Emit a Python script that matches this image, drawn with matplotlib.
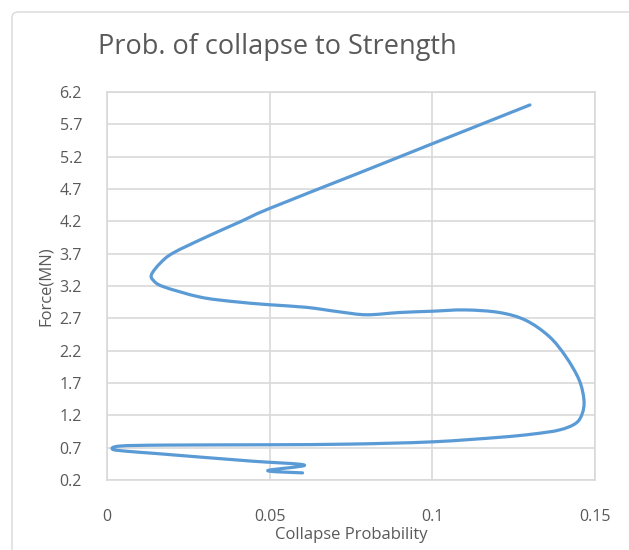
import matplotlib.pyplot as plt
from matplotlib.path import Path
from matplotlib.patches import PathPatch, FancyBboxPatch

# collapse probability vs force, traced along the curve from the low end upwards
prob = [0.0601, 0.0494, 0.0607, 0.045, 0.0285, 0.015, 0.006, 0.0017, 0.004, 0.018,
        0.05, 0.0745, 0.1, 0.1206, 0.1308, 0.139, 0.1441, 0.1461, 0.1466, 0.1451,
        0.141, 0.1359, 0.1287, 0.1206, 0.110, 0.1, 0.0899, 0.0798, 0.0715, 0.0613,
        0.05, 0.0387, 0.0285, 0.0173, 0.0142, 0.0137, 0.0163, 0.0203, 0.0306, 0.0408,
        0.05, 0.0776, 0.1, 0.13]
force = [0.31, 0.345, 0.43, 0.49, 0.555, 0.61, 0.645, 0.675, 0.725, 0.74,
         0.745, 0.755, 0.79, 0.86, 0.91, 0.973, 1.077, 1.23, 1.44, 1.75,
         2.11, 2.42, 2.67, 2.79, 2.83, 2.81, 2.79, 2.755, 2.80, 2.87,
         2.91, 2.96, 3.03, 3.19, 3.29, 3.38, 3.55, 3.71, 3.96, 4.19,
         4.40, 4.95, 5.40, 6.0]

xticks = [0, 0.05, 0.1, 0.15]
xticklabels = ['0', '0.05', '0.1', '0.15']
yticks = [0.2 + 0.5 * i for i in range(13)]

plt.rcParams['font.family'] = ['Open Sans', 'DejaVu Sans']
txt = '#595959'
grid = '#d9d9d9'


def smooth_path(xs, ys):
    # spreadsheet-style smoothed line: cubic bezier segments through every point
    pts = list(zip(xs, ys))
    n = len(pts)
    verts = [pts[0]]
    codes = [Path.MOVETO]
    for i in range(n - 1):
        p0 = pts[max(i - 1, 0)]
        p1 = pts[i]
        p2 = pts[i + 1]
        p3 = pts[min(i + 2, n - 1)]
        c1 = (p1[0] + (p2[0] - p0[0]) / 6, p1[1] + (p2[1] - p0[1]) / 6)
        c2 = (p2[0] - (p3[0] - p1[0]) / 6, p2[1] - (p3[1] - p1[1]) / 6)
        verts += [c1, c2, p2]
        codes += [Path.CURVE4] * 3
    return Path(verts, codes)


fig = plt.figure(figsize=(6.29, 5.50), dpi=100)
ax = fig.add_axes([107/629, 70/550, 488/629, 388/550])

# outer chart frame
fig.patches.append(FancyBboxPatch((12/629, -0.1), 1.2, (538+55)/550, boxstyle='round,pad=0,rounding_size=0.01',
                                  transform=fig.transFigure, fill=False, ec=grid, lw=1))

ax.add_patch(PathPatch(smooth_path(prob, force), fill=False, ec='#5b9bd5', lw=2.3,
                       joinstyle='round', capstyle='round', zorder=3))

ax.set_xlim(0, 0.15)
ax.set_ylim(0.2, 6.2)
ax.set_xticks(xticks)
ax.set_xticklabels(xticklabels)
ax.set_yticks(yticks)
ax.set_yticklabels([f'{v:.1f}' for v in yticks])
ax.grid(True, color=grid, lw=1.2)
ax.set_axisbelow(True)
for s in ax.spines.values():
    s.set_color(grid)
    s.set_linewidth(1.2)
ax.tick_params(length=0, labelsize=11.5, colors=txt)
ax.tick_params(axis='x', pad=21)
ax.tick_params(axis='y', pad=18)

ax.set_xlabel('Collapse Probability', fontsize=12, color=txt, labelpad=1)
ax.set_ylabel('Force(MN)', fontsize=12, color=txt, labelpad=4)
fig.text(277/629, 1 - 47/550, 'Prob. of collapse to Strength', fontsize=19.5, color=txt,
         ha='center', va='center')

fig.savefig('out.png', dpi=100)
